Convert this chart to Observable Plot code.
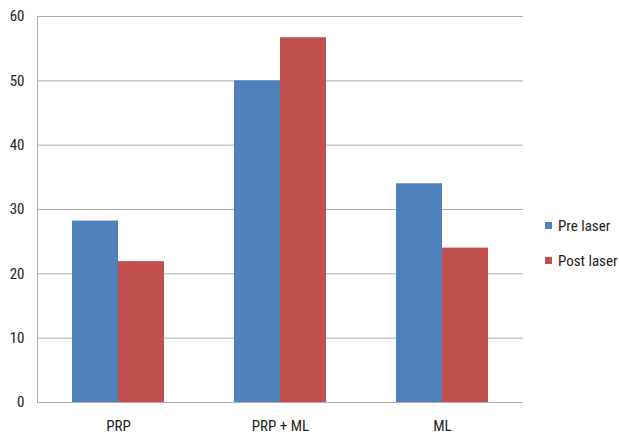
<!DOCTYPE html>
<html>
<head>
<meta charset="utf-8">
<script src="https://cdn.jsdelivr.net/npm/d3@7"></script>
<script src="https://cdn.jsdelivr.net/npm/@observablehq/plot@0.6"></script>
<style>
  html, body { margin: 0; padding: 0; background: #fff; }
  #wrap { position: relative; width: 619px; height: 434px; font-family: "Liberation Sans Narrow", "Roboto Condensed", "Liberation Sans", sans-serif; }
  #chart { position: absolute; left: 0; top: 0; }
  #legend { position: absolute; left: 545px; top: 214px; font-size: 15px; color: #222; }
  .item { display: flex; align-items: center; height: 23px; margin-bottom: 12px; }
  .sw { width: 7px; height: 7px; margin-right: 6px; }
</style>
</head>
<body>
<div id="wrap"><div id="chart"></div><div id="legend"></div></div>
<script>
const categories = ["PRP", "PRP + ML", "ML"];
const series = ["Pre laser", "Post laser"];
const preValues = [28.2, 50, 34];
const postValues = [21.9, 56.7, 24];
const yTicks = [0, 10, 20, 30, 40, 50, 60];
const colors = ["#4F81BD", "#C0504D"];

const data = categories.flatMap((c, i) => [
  {cat: c, s: series[0], v: preValues[i]},
  {cat: c, s: series[1], v: postValues[i]}
]);

const gridColor = "#b0b0b0";
const fontFamily = '"Liberation Sans Narrow", "Roboto Condensed", "Liberation Sans", sans-serif';

const chart = Plot.plot({
  width: 619,
  height: 434,
  marginLeft: 37,
  marginRight: 96,
  marginTop: 16,
  marginBottom: 32,
  style: {fontFamily, fontSize: "15px", color: "#222", background: "transparent"},
  fx: {domain: categories, padding: 0, label: null},
  x: {domain: series, paddingInner: 0, paddingOuter: 0.76, axis: null},
  y: {domain: [0, 60], axis: null},
  color: {domain: series, range: colors},
  marks: [
    Plot.gridY(yTicks, {stroke: gridColor, strokeOpacity: 1}),
    Plot.barY(data, {fx: "cat", x: "s", y: "v", fill: "s"}),
    Plot.ruleY([0], {stroke: gridColor}),
    Plot.frame({anchor: "left", facetAnchor: "left", stroke: gridColor}),
    Plot.axisY(yTicks, {tickSize: 0, tickPadding: 13, label: null, fill: "#222"}),
    Plot.axisFx({anchor: "bottom", tickSize: 0, tickPadding: 18, label: null, fill: "#222"})
  ]
});
document.getElementById("chart").append(chart);

const legend = document.getElementById("legend");
series.forEach((s, i) => {
  const item = document.createElement("div");
  item.className = "item";
  const sw = document.createElement("div");
  sw.className = "sw";
  sw.style.background = colors[i];
  const t = document.createElement("span");
  t.textContent = s;
  item.append(sw, t);
  legend.append(item);
});
</script>
</body>
</html>
